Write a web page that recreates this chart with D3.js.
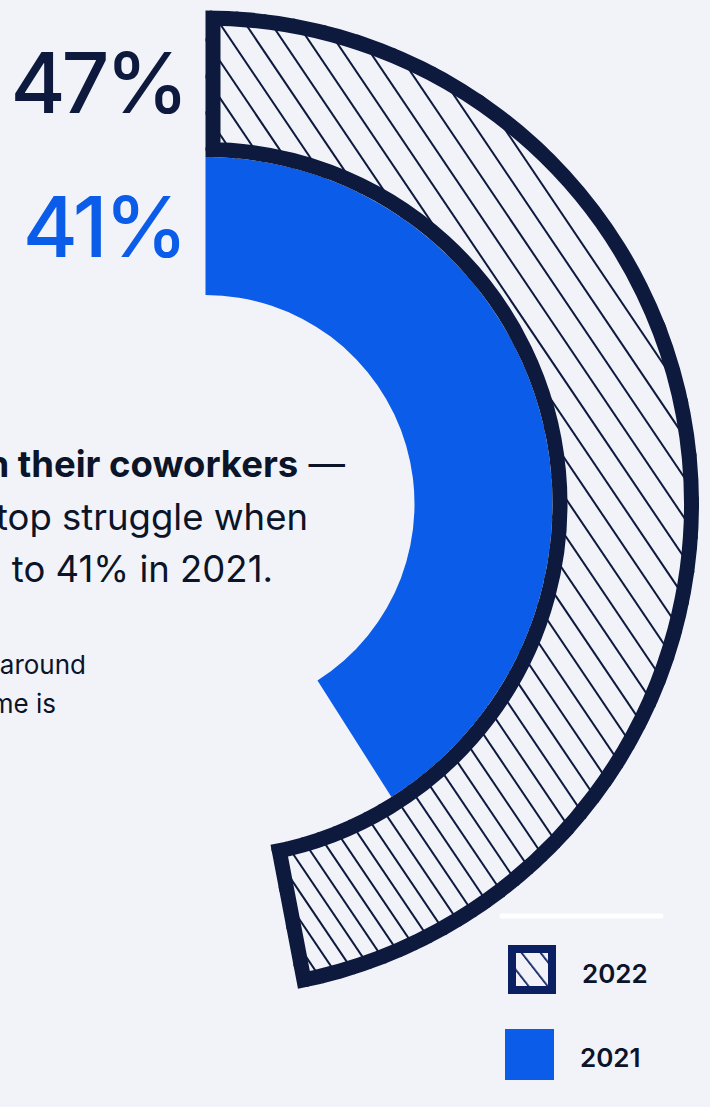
<!DOCTYPE html>
<html>
<head>
<meta charset="utf-8">
<script src="https://cdn.jsdelivr.net/npm/d3@7"></script>
<style>
  html, body { margin: 0; padding: 0; background: #f1f3f8; }
  svg { display: block; }
  text { font-family: Inter, "Noto Sans", sans-serif; }
</style>
</head>
<body>
<svg id="chart" width="710" height="1107"></svg>
<script>
// Share of respondents naming the struggle, by survey year
const years = ["2022", "2021"];
const shares = [47, 41];
const shareLabels = ["47%", "41%"];

// Paragraph copy beside the rings
const bodyLines = [
  { bold: "with their coworkers", rest: " —" },
  { bold: "", rest: "top struggle when" },
  { bold: "", rest: "to 41% in 2021." }
];
const noteLines = ["around", "me is"];

const navy = "#0d1a3e";
const blue = "#0b5ce8";
const bg = "#f1f3f8";

const svg = d3.select("#chart");
svg.append("rect").attr("width", 710).attr("height", 1107).attr("fill", bg);

const cx = 205.5, cy = 504;
const angle = d3.scaleLinear().domain([0, 100]).range([0, 2 * Math.PI]);

const rings = {
  "2022": { inner: 347, outer: 493.5 },
  "2021": { inner: 209, outer: 347 }
};

const defs = svg.append("defs");
const g = svg.append("g").attr("transform", `translate(${cx},${cy})`);

// 2021 ring: solid blue
const arc2021 = d3.arc()
  .innerRadius(rings["2021"].inner)
  .outerRadius(rings["2021"].outer)
  .startAngle(0)
  .endAngle(angle(shares[1]));
g.append("path").attr("d", arc2021()).attr("fill", blue);

// 2022 ring: hatched, with an inside border
const arc2022 = d3.arc()
  .innerRadius(rings["2022"].inner)
  .outerRadius(rings["2022"].outer)
  .startAngle(0)
  .endAngle(angle(shares[0]));
const d2022 = arc2022();

defs.append("clipPath").attr("id", "clip2022")
  .append("path").attr("d", d2022).attr("transform", `translate(${cx},${cy})`);

const hatch = svg.append("g").attr("clip-path", "url(#clip2022)");
const hg = hatch.append("g").attr("transform", `translate(${cx},${cy})`);
hg.append("path").attr("d", d2022).attr("fill", bg);

// Diagonal hatch lines; spacing widens slightly toward the top of the ring
const alpha = 56 * Math.PI / 180;
const dir = [Math.cos(alpha), Math.sin(alpha)];
const nrm = [Math.sin(alpha), -Math.cos(alpha)];
const offsets = [];
for (let c = -200; c <= 500; c += 15 + 9 * (c + 200) / 700) offsets.push(c);
hg.selectAll("line.hatch").data(offsets).join("line")
  .attr("class", "hatch")
  .attr("x1", c => c * nrm[0] - 800 * dir[0])
  .attr("y1", c => c * nrm[1] - 800 * dir[1])
  .attr("x2", c => c * nrm[0] + 800 * dir[0])
  .attr("y2", c => c * nrm[1] + 800 * dir[1])
  .attr("stroke", navy)
  .attr("stroke-width", 2);

hg.append("path").attr("d", d2022)
  .attr("fill", "none")
  .attr("stroke", navy)
  .attr("stroke-width", 30)
  .attr("stroke-linejoin", "miter");

// Big percentage labels
const labelColors = [navy, blue];
const labelBaselines = [113, 257];
svg.selectAll("text.pct").data(shareLabels).join("text")
  .attr("class", "pct")
  .attr("x", 185)
  .attr("y", (d, i) => labelBaselines[i])
  .attr("text-anchor", "end")
  .attr("font-size", 84)
  .attr("font-weight", 500)
  .attr("letter-spacing", (d, i) => i === 0 ? -4 : -3)
  .attr("fill", (d, i) => labelColors[i])
  .text(d => d);

// Paragraph text
const bodyRight = [345, 308, 273];
const bodyBase = [477, 530, 582];
const body = svg.selectAll("text.body").data(bodyLines).join("text")
  .attr("class", "body")
  .attr("x", (d, i) => bodyRight[i])
  .attr("y", (d, i) => bodyBase[i])
  .attr("text-anchor", "end")
  .attr("font-size", 36.5)
  .attr("fill", "#0b1428");
body.append("tspan").attr("font-weight", 700).text(d => d.bold);
body.append("tspan").attr("font-weight", 400).text(d => d.rest);

const noteRight = [86, 56];
const noteBase = [674, 713];
svg.selectAll("text.note").data(noteLines).join("text")
  .attr("class", "note")
  .attr("x", (d, i) => noteRight[i])
  .attr("y", (d, i) => noteBase[i])
  .attr("text-anchor", "end")
  .attr("font-size", 26)
  .attr("fill", "#0b1428")
  .text(d => d);

// Legend
const legend = svg.append("g");
legend.append("line")
  .attr("x1", 502).attr("x2", 661).attr("y1", 916).attr("y2", 916)
  .attr("stroke", "#ffffff").attr("stroke-width", 5).attr("stroke-linecap", "round");

const swatchPat = defs.append("pattern").attr("id", "swatchHatch")
  .attr("patternUnits", "userSpaceOnUse")
  .attr("width", 15).attr("height", 15)
  .attr("patternTransform", "translate(519,951) rotate(-38)");
swatchPat.append("rect").attr("width", 15).attr("height", 15).attr("fill", bg);
swatchPat.append("line").attr("x1", 0).attr("x2", 0).attr("y1", 0).attr("y2", 15)
  .attr("stroke", "#0b1f63").attr("stroke-width", 3.5);

const legendRows = [
  { y: 945, h: 49, x: 508, w: 48, textX: 582, base: 983 },
  { y: 1029, h: 51, x: 505, w: 49, textX: 580, base: 1067 }
];
legendRows.forEach((r, i) => {
  if (i === 0) {
    legend.append("rect")
      .attr("x", r.x + 4).attr("y", r.y + 4).attr("width", r.w - 8).attr("height", r.h - 8)
      .attr("fill", "url(#swatchHatch)")
      .attr("stroke", "#0b1f63").attr("stroke-width", 8);
  } else {
    legend.append("rect")
      .attr("x", r.x).attr("y", r.y).attr("width", r.w).attr("height", r.h)
      .attr("fill", blue);
  }
  legend.append("text")
    .attr("x", r.textX).attr("y", r.base)
    .attr("font-size", 26).attr("font-weight", 600)
    .attr("fill", "#0b1428")
    .text(years[i]);
});
</script>
</body>
</html>
